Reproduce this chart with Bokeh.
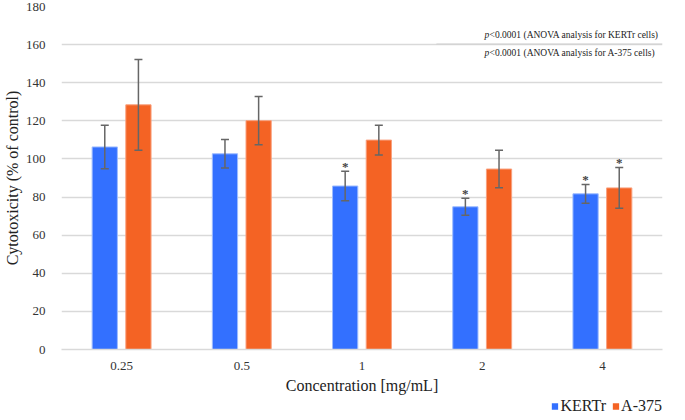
from bokeh.plotting import figure
from bokeh.layouts import column
from bokeh.models import (ColumnDataSource, FactorRange, Range1d, Whisker, Label,
                          Legend, LegendItem, SingleIntervalTicker, BoxAnnotation)
from bokeh.transform import dodge
from bokeh.core.properties import value
from bokeh.embed import file_html
from bokeh.resources import INLINE

# ---- data ----
concentrations = ["0.25", "0.5", "1", "2", "4"]
kertr_mean = [106.3, 102.7, 85.8, 74.9, 81.7]
kertr_sd = [11.4, 7.5, 7.7, 4.5, 4.9]
a375_mean = [128.4, 120.1, 109.9, 94.7, 84.8]
a375_sd = [23.8, 12.7, 7.8, 9.8, 10.7]
kertr_sig = [False, False, True, True, True]
a375_sig = [False, False, False, False, True]
series_names = ["KERTr", "A-375"]
y_ticks_step = 20
y_max = 180
note_lines = ["<0.0001 (ANOVA analysis for KERTr cells)",
              "<0.0001 (ANOVA analysis for A-375 cells)"]

BLUE = "#3370FF"
ORANGE = "#F46324"
SERIF = "Liberation Serif"

src_k = ColumnDataSource(dict(x=concentrations, top=kertr_mean,
                              upper=[m + s for m, s in zip(kertr_mean, kertr_sd)],
                              lower=[m - s for m, s in zip(kertr_mean, kertr_sd)]))
src_a = ColumnDataSource(dict(x=concentrations, top=a375_mean,
                              upper=[m + s for m, s in zip(a375_mean, a375_sd)],
                              lower=[m - s for m, s in zip(a375_mean, a375_sd)]))

p = figure(x_range=FactorRange(*concentrations), y_range=Range1d(0, y_max),
           width=669, height=396, output_backend="svg", toolbar_location=None,
           min_border_left=47, min_border_right=7, min_border_top=6, min_border_bottom=0)
p.outline_line_color = None
p.background_fill_color = "white"
p.border_fill_color = "white"

off = 0.14
bw = 0.21
rk = p.vbar(x=dodge("x", -off, range=p.x_range), top="top", width=bw, source=src_k,
            fill_color=BLUE, line_color="#9DBBFF", line_width=1)
ra = p.vbar(x=dodge("x", off, range=p.x_range), top="top", width=bw, source=src_a,
            fill_color=ORANGE, line_color="#F9A07E", line_width=1)

for src, o in ((src_k, -off), (src_a, off)):
    w = Whisker(base=dodge("x", o, range=p.x_range), upper="upper", lower="lower",
                source=src, line_color="#666666", line_width=1.5, level="overlay")
    w.upper_head.size = 8
    w.lower_head.size = 8
    w.upper_head.line_color = "#666666"
    w.lower_head.line_color = "#666666"
    w.upper_head.line_width = 1.5
    w.lower_head.line_width = 1.5
    p.add_layout(w)

# significance stars
for o, means, sds, sig in ((-off, kertr_mean, kertr_sd, kertr_sig),
                           (off, a375_mean, a375_sd, a375_sig)):
    xs = [c for c, s in zip(concentrations, sig) if s]
    ys = [m + d for m, d, s in zip(means, sds, sig) if s]
    if xs:
        s = ColumnDataSource(dict(x=xs, y=ys, t=["*"] * len(xs)))
        p.text(x=dodge("x", o, range=p.x_range), y="y", text="t", source=s,
               text_align="center", text_baseline="middle", y_offset=-5,
               text_font=value(SERIF), text_font_size="13px", text_color="#444444",
               text_font_style="bold")

# axes
p.yaxis.ticker = SingleIntervalTicker(interval=y_ticks_step)
p.yaxis.axis_line_color = None
p.yaxis.major_tick_line_color = None
p.yaxis.minor_tick_line_color = None
p.yaxis.major_tick_out = 0
p.yaxis.major_label_standoff = 12
p.yaxis.major_label_text_font = SERIF
p.yaxis.major_label_text_font_size = "13px"
p.yaxis.major_label_text_color = "#333333"
p.yaxis.axis_label = "Cytotoxicity (% of control)"
p.yaxis.axis_label_text_font = SERIF
p.yaxis.axis_label_text_font_size = "16px"
p.yaxis.axis_label_text_font_style = "normal"
p.yaxis.axis_label_text_color = "#222222"
p.yaxis.axis_label_standoff = 2

p.xaxis.axis_line_color = "#D9D9D9"
p.xaxis.axis_line_width = 1.5
p.xaxis.major_tick_line_color = None
p.xaxis.minor_tick_line_color = None
p.xaxis.major_tick_out = 0
p.xaxis.major_label_standoff = 12
p.xaxis.major_label_text_font = SERIF
p.xaxis.major_label_text_font_size = "13px"
p.xaxis.major_label_text_color = "#333333"
p.xaxis.axis_label = "Concentration [mg/mL]"
p.xaxis.axis_label_text_font = SERIF
p.xaxis.axis_label_text_font_size = "16px"
p.xaxis.axis_label_text_font_style = "normal"
p.xaxis.axis_label_text_color = "#222222"
p.xaxis.axis_label_standoff = 4

p.xgrid.grid_line_color = None
p.ygrid.grid_line_color = "#D9D9D9"
p.ygrid.grid_line_width = 1.5

# ANOVA notes
note_x = 3.52
for yv, txt in zip((165.0, 155.6), note_lines):
    p.add_layout(Label(x=note_x, y=yv, text="p", text_font=SERIF, text_font_size="9.5px",
                       text_font_style="italic", text_baseline="middle", text_color="#222222"))
    p.add_layout(Label(x=note_x, y=yv, x_offset=5, text=txt, text_font=SERIF,
                       text_font_size="9.5px", text_baseline="middle", text_color="#222222"))
p.add_layout(BoxAnnotation(left=3.12, right=5.0, top=160.4, bottom=160.4,
                           line_color="#BFBFBF", line_width=1, fill_alpha=0))

# legend strip below the chart (legend keys use zero-height placeholder bars)
q = figure(width=669, height=20, output_backend="svg", toolbar_location=None,
           x_range=Range1d(0, 1), y_range=Range1d(0, 1),
           min_border_left=0, min_border_right=0, min_border_top=0, min_border_bottom=0)
q.axis.visible = False
q.grid.visible = False
q.outline_line_color = None
q.border_fill_color = "white"
key_src = ColumnDataSource(dict(x=[0.5], top=[0]))
lk = q.vbar(x="x", top="top", width=0.001, source=key_src, fill_color=BLUE, line_color=None)
la = q.vbar(x="x", top="top", width=0.001, source=key_src, fill_color=ORANGE, line_color=None)
legend = Legend(items=[LegendItem(label=series_names[0], renderers=[lk]),
                       LegendItem(label=series_names[1], renderers=[la])],
                orientation="horizontal", location="center_right",
                label_text_font=SERIF, label_text_font_size="16px",
                label_text_color="#222222", glyph_width=8, glyph_height=8,
                label_standoff=2, spacing=5, padding=0, margin=0, label_height=16,
                border_line_color=None, background_fill_alpha=0)
q.add_layout(legend, "center")

layout = column(p, q, spacing=0)
open("out.html", "w").write(file_html(layout, INLINE))
